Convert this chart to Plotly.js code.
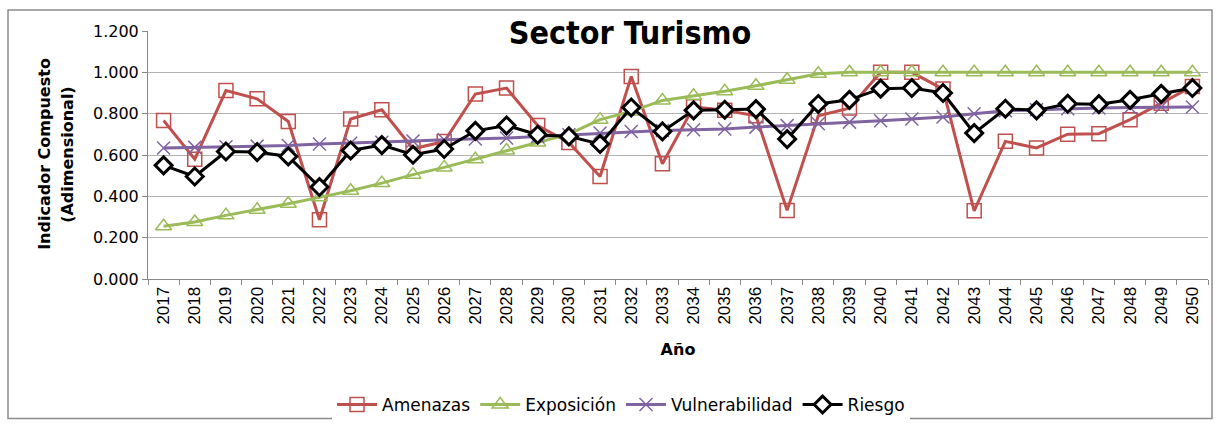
<!DOCTYPE html>
<html><head><meta charset="utf-8">
<script src="https://cdn.plot.ly/plotly-3.0.1.min.js"></script>
<style>html,body{margin:0;padding:0;background:#fff}#chart{width:1217px;height:427px}</style>
</head><body><div id="chart"></div>
<script>
const years = ['2017','2018','2019','2020','2021','2022','2023','2024','2025','2026','2027','2028','2029','2030','2031','2032','2033','2034','2035','2036','2037','2038','2039','2040','2041','2042','2043','2044','2045','2046','2047','2048','2049','2050'];
const amenazas = [0.767,0.580,0.912,0.872,0.762,0.287,0.774,0.819,0.630,0.665,0.895,0.924,0.743,0.661,0.496,0.980,0.558,0.833,0.816,0.790,0.332,0.790,0.827,1.000,1.000,0.919,0.330,0.666,0.634,0.701,0.703,0.771,0.851,0.932];
const exposicion = [0.255,0.276,0.308,0.335,0.364,0.395,0.427,0.464,0.505,0.540,0.580,0.622,0.661,0.701,0.771,0.811,0.864,0.887,0.908,0.935,0.964,0.993,1.000,1.000,1.000,1.000,1.000,1.000,1.000,1.000,1.000,1.000,1.000,1.000];
const vulnerabilidad = [0.634,0.637,0.640,0.643,0.646,0.653,0.657,0.662,0.668,0.674,0.677,0.682,0.690,0.698,0.706,0.714,0.719,0.722,0.726,0.735,0.742,0.751,0.759,0.766,0.774,0.784,0.800,0.814,0.819,0.824,0.827,0.830,0.832,0.832];
const riesgo = [0.550,0.496,0.617,0.614,0.593,0.445,0.622,0.648,0.601,0.629,0.717,0.743,0.698,0.690,0.653,0.830,0.714,0.816,0.819,0.822,0.677,0.847,0.867,0.921,0.924,0.900,0.706,0.824,0.816,0.848,0.846,0.867,0.896,0.924];
const yTicks = [0,0.2,0.4,0.6,0.8,1.0,1.2];
const yTitle1 = 'Indicador Compuesto';
const yTitle2 = '(Adimensional)';

const F = 'DejaVu Sans, Verdana, sans-serif';
const FC = 'DejaVu Sans Condensed, DejaVu Sans, sans-serif';
const FA = 'Liberation Sans, Arial, sans-serif';
const traces = [
  {name:'Amenazas', x:years, y:amenazas, mode:'lines+markers', line:{color:'#C0504D', width:3},
   marker:{symbol:'square-open', size:14, color:'#C0504D', line:{width:1.5}}},
  {name:'Exposición', x:years, y:exposicion, mode:'lines+markers', line:{color:'#9BBB59', width:3},
   marker:{symbol:'triangle-up-open', size:14, color:'#9BBB59', line:{width:1.5}}},
  {name:'Vulnerabilidad', x:years, y:vulnerabilidad, mode:'lines+markers', line:{color:'#8064A2', width:3},
   marker:{symbol:'x-thin-open', size:13, color:'#8064A2', line:{width:1.5, color:'#8064A2'}}},
  {name:'Riesgo', x:years, y:riesgo, mode:'lines+markers', line:{color:'#000000', width:3},
   marker:{symbol:'diamond', size:13, color:'#ffffff', line:{width:3, color:'#000000'}}}
];
const PW = 1060, PH = 248.3;
const layout = {
  width:1217, height:427,
  margin:{l:148, r:9, t:31, b:147.7},
  paper_bgcolor:'#ffffff', plot_bgcolor:'#ffffff',
  font:{family:F, color:'#000'},
  title:{text:'<b>Sector Turismo</b>', font:{size:32, family:FC, color:'#000'}, x:630/1217, xref:'container', xanchor:'center', y:1-33/427, yref:'container', yanchor:'middle'},
  showlegend:true,
  legend:{orientation:'h', x:621/1217, xref:'container', xanchor:'center', y:1-405/427, yref:'container', yanchor:'middle', font:{size:17, family:F}, itemwidth:40, traceorder:'normal'},
  xaxis:{type:'category', range:[-0.5,33.5], tickangle:-90, tickfont:{size:17, family:FA}, ticks:'outside', tickson:'boundaries', ticklen:5, tickcolor:'#888',
         showline:true, linecolor:'#888', linewidth:1, showgrid:false,
         title:{text:'<b>Año</b>', font:{size:16, family:F}, standoff:20}},
  yaxis:{range:[0,1.2], tickvals:yTicks, tickformat:'.3f', tickfont:{size:16, family:F}, ticks:'outside', ticklen:5, tickcolor:'#888',
         showline:true, linecolor:'#888', linewidth:1, showgrid:true, gridcolor:'#b3b3b3', gridwidth:1, zeroline:false},
  annotations:[
    {text:'<b>'+yTitle1+'</b>', xref:'paper', yref:'paper', x:(45-148)/PW, y:(279.3-154)/PH, xanchor:'center', yanchor:'middle', textangle:-90, showarrow:false, font:{size:16, family:F, color:'#000'}},
    {text:'<b>'+yTitle2+'</b>', xref:'paper', yref:'paper', x:(68-148)/PW, y:(279.3-155)/PH, xanchor:'center', yanchor:'middle', textangle:-90, showarrow:false, font:{size:16, family:F, color:'#000'}}
  ],
  shapes:[
    {type:'rect', xref:'paper', yref:'paper', x0:-140/PW, x1:(1212-148)/PW, y0:(279.3-419)/PH, y1:(279.3-10)/PH,
     line:{color:'#8c8c8c', width:1.5}, fillcolor:'rgba(0,0,0,0)', layer:'below'},
    {type:'rect', xref:'paper', yref:'paper', x0:(500-148)/PW, x1:(760-148)/PW, y0:(279.3-50)/PH, y1:(279.3-14)/PH,
     line:{width:0}, fillcolor:'#ffffff', layer:'above'}
  ]
};
Plotly.newPlot('chart', traces, layout, {displayModeBar:false, staticPlot:true});
</script></body></html>
